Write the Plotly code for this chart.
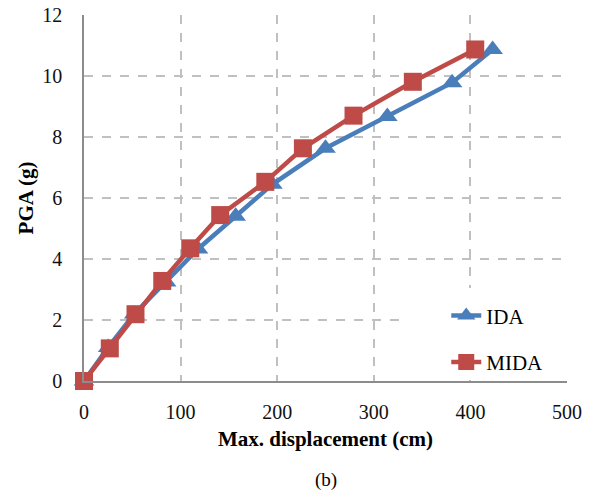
import plotly.graph_objects as go

# Maximum displacement (cm) vs PGA (g) for the two analysis methods
ida_disp = [0, 25, 52, 85, 118, 157, 195, 250, 314, 381, 423]
ida_pga = [0, 1.1, 2.2, 3.25, 4.33, 5.4, 6.45, 7.63, 8.67, 9.78, 10.87]

mida_disp = [0, 26.7, 53.3, 81, 110, 141, 187.7, 226.6, 279, 340.4, 405]
mida_pga = [0, 1.07, 2.19, 3.28, 4.35, 5.44, 6.53, 7.63, 8.70, 9.81, 10.87]

x_ticks = [0, 100, 200, 300, 400, 500]
y_ticks = [0, 2, 4, 6, 8, 10, 12]

BLUE = "#4a7ebb"
RED = "#be4b48"
FONT = "Liberation Serif"

fig = go.Figure()
fig.add_trace(go.Scatter(
    x=ida_disp, y=ida_pga, name="IDA", mode="lines+markers",
    legendgroup="ida", cliponaxis=False,
    line=dict(color=BLUE, width=4.5),
    marker=dict(symbol="triangle-up", size=18, color=BLUE),
))
fig.add_trace(go.Scatter(
    x=mida_disp, y=mida_pga, name="MIDA", mode="lines+markers",
    legendgroup="mida", cliponaxis=False,
    line=dict(color=RED, width=4.5),
    marker=dict(symbol="square", size=18, color=RED),
))

# white panel behind the legend, hiding the grid in that corner
fig.add_shape(type="rect", xref="x", yref="y", x0=332, x1=498, y0=0.03, y1=3.05,
              fillcolor="white", line=dict(width=0), layer="between")

grid = dict(showgrid=True, gridcolor="#c0c0c0", gridwidth=1.5, griddash="dash",
            zeroline=False, showline=True, linecolor="#8c8c8c", linewidth=1.5,
            automargin=False,
            ticks="", tickfont=dict(family=FONT, size=20, color="#111"))

fig.update_xaxes(range=[0, 500], tickvals=x_ticks, ticklabelstandoff=12,
                 title=dict(text="<b>Max. displacement (cm)</b>",
                            font=dict(family=FONT, size=21, color="#000"), standoff=10),
                 **grid)
fig.update_yaxes(range=[0, 12], tickvals=y_ticks, ticklabelstandoff=16,
                 title=dict(text="<b>PGA (g)</b>",
                            font=dict(family=FONT, size=21, color="#000"), standoff=3),
                 **grid)

fig.add_annotation(text="(b)", x=0.5, y=0, xref="paper", yref="paper",
                   xanchor="center", yanchor="middle", yshift=-99, showarrow=False,
                   font=dict(family=FONT, size=19, color="#000"))

fig.update_layout(
    width=597, height=497,
    margin=dict(l=84, r=30, t=15, b=116),
    paper_bgcolor="white", plot_bgcolor="white",
    font=dict(family=FONT, size=20, color="#000"),
    legend=dict(x=0.75, y=-0.004, xanchor="left", yanchor="bottom",
                bgcolor="rgba(0,0,0,0)", tracegroupgap=16,
                font=dict(family=FONT, size=21, color="#000")),
)

fig.write_html("out.html")
